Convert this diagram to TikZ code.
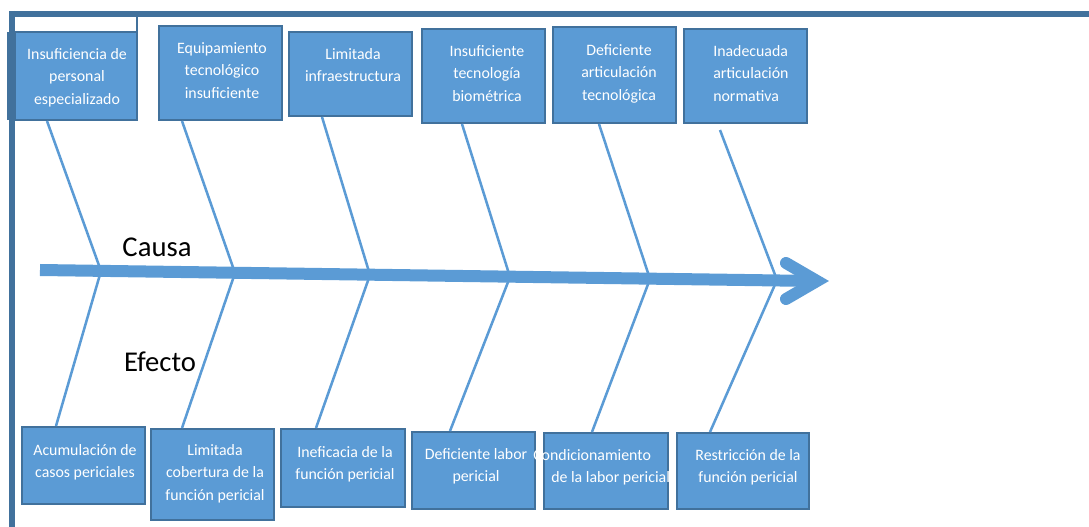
\documentclass[tikz,border=0pt]{standalone}
\usepackage{fontspec}
\setmainfont{Carlito}
\usetikzlibrary{fit}
\definecolor{boxfill}{HTML}{5B9BD5}
\definecolor{boxedge}{HTML}{41719C}
\definecolor{frameblue}{HTML}{41719C}
\newcommand{\lnstrut}{\rule{0pt}{12pt}}
\begin{document}
\begin{tikzpicture}[x=0.75pt,y=-0.75pt,
  cbox/.style={draw=boxedge, fill=boxfill, line width=2.2pt, inner sep=0pt},
  ctext/.style={text=white, font=\fontsize{11.9}{16.9}\selectfont, align=center, inner sep=0pt, anchor=north},
  ltext/.style={ctext, align=left, anchor=north west},
  bone/.style={draw=boxfill, line width=1.9pt},
  spine/.style={draw=boxfill, line width=9pt},
  chev/.style={draw=boxfill, line width=9pt, line cap=round, line join=miter},
  biglabel/.style={font=\fontsize{21.5}{26}\selectfont, text=black, inner sep=0pt},
  frame/.style={draw=frameblue, line width=4pt}]
\useasboundingbox (0,0) rectangle (1089,527);

% page frame
\coordinate (fTL) at (12,14);
\coordinate (fTR) at (1089,14);
\coordinate (fBL) at (12,527);
\draw[frame] (9,14) -- (fTR);
\draw[frame] (12,11) -- (fBL);
\fill[frameblue] (7,32) rectangle (15,120);
\draw[draw=frameblue, line width=1.9pt] (137,14) -- (137,32);

% cause boxes
\node[cbox, fit={(15,32) (137,120)}] (c1) {};
\node[cbox, fit={(159,26) (282,120)}] (c2) {};
\node[cbox, fit={(289,32) (412,116)}] (c3) {};
\node[cbox, fit={(422,29) (545,123)}] (c4) {};
\node[cbox, fit={(553,27) (676,123)}] (c5) {};
\node[cbox, fit={(684,29) (807,123)}] (c6) {};

% effect boxes
\node[cbox, fit={(22,427) (145,504)}] (e1) {};
\node[cbox, fit={(151,429) (274,520)}] (e2) {};
\node[cbox, fit={(281,429) (405,507)}] (e3) {};
\node[cbox, fit={(412,432) (535,509)}] (e4) {};
\node[cbox, fit={(544,433) (668,509)}] (e5) {};
\node[cbox, fit={(677,433) (809,509)}] (e6) {};

% spine with open arrow head
\coordinate (sp0) at (40,270);
\coordinate (spE) at (815,281);
\coordinate (ah1) at (786,263);
\coordinate (tip) at (817,281);
\coordinate (ah2) at (786,299);
\draw[spine] (sp0) -- (spE);
\draw[chev] (ah1) -- (tip) -- (ah2);

% bone joints on the spine
\coordinate (s1) at (101,271);
\coordinate (s2) at (235,273);
\coordinate (s3) at (370,275);
\coordinate (s4) at (510,277);
\coordinate (s5) at (650,279);
\coordinate (s6) at (777,280);

% bone ends at the boxes
\coordinate (t1) at (47,121);
\coordinate (t2) at (182,121);
\coordinate (t3) at (322,117);
\coordinate (t4) at (462,124);
\coordinate (t5) at (599,124);
\coordinate (t6) at (720,130);
\coordinate (b1) at (56,426);
\coordinate (b2) at (182,428);
\coordinate (b3) at (316,428);
\coordinate (b4) at (450,431);
\coordinate (b5) at (592,432);
\coordinate (b6) at (710,432);

\foreach \i in {1,...,6} {
  \draw[bone] (t\i) -- (s\i) -- (b\i);
}

% cause texts
\node[ctext] (c1t) at (77,43) {\lnstrut Insuficiencia de\\personal\\especializado};
\node[ctext] (c2t) at (222,37) {\lnstrut Equipamiento\\tecnológico\\insuficiente};
\node[ctext] (c3t) at (353,43) {\lnstrut Limitada\\infraestructura};
\node[ctext] (c4t) at (487,40) {\lnstrut Insuficiente\\tecnología\\biométrica};
\node[ctext] (c5t) at (619,39) {\lnstrut Deficiente\\articulación\\tecnológica};
\node[ltext] (c6t) at (713,40) {\lnstrut Inadecuada\\articulación\\normativa};

% effect texts
\node[ctext] (e1t) at (85,439) {\lnstrut Acumulación de\\casos periciales};
\node[ctext] (e2t) at (215,439) {\lnstrut Limitada\\cobertura de la\\función pericial};
\node[ctext] (e3t) at (345,441) {\lnstrut Ineficacia de la\\función pericial};
\node[ctext] (e4t) at (476,443) {\lnstrut Deficiente labor\\pericial};
\node[ltext] (e5t) at (533,444) {\lnstrut Condicionamiento\\\hspace*{13.5pt}de la labor pericial};
\node[ctext] (e6t) at (748,444) {\lnstrut Restricción de la\\función pericial};

% row labels
\node[biglabel] (causa) at (157,247) {Causa};
\node[biglabel] (efecto) at (160,362) {Efecto};
\end{tikzpicture}
\end{document}
